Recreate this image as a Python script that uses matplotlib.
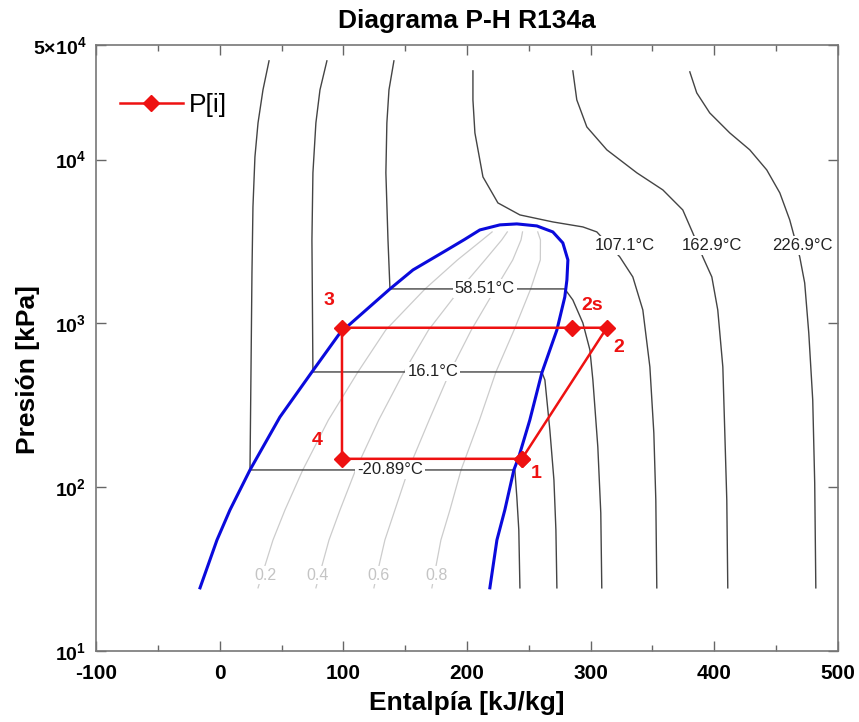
import matplotlib.pyplot as plt
from matplotlib.ticker import MultipleLocator, NullLocator

plt.rcParams['font.family'] = ['Liberation Sans', 'DejaVu Sans']
plt.rcParams['mathtext.fontset'] = 'custom'
plt.rcParams['mathtext.rm'] = 'Liberation Sans:bold'
plt.rcParams['mathtext.it'] = 'Liberation Sans:bold'
plt.rcParams['mathtext.bf'] = 'Liberation Sans:bold'

# campana de saturacion (liquido -> punto critico -> vapor)
h_sat = [-15.9, -2.2, 8.3, 24.5, 48.7, 74.6, 97.3, 137.7, 156.3, 183.8, 198.0, 210.4, 226.6, 240.3,
         256.5, 269.4, 277.5, 281.6, 280.8, 279.1, 272.7, 260.5, 250.8, 241.9, 237.9, 230.6, 224.2, 218.5]
p_sat = [24.3, 47.6, 72.6, 127.4, 268, 505, 874, 1622, 2118, 2806, 3250, 3716, 3990, 4045,
         3932, 3614, 3097, 2438, 1841, 1449, 911, 498, 257, 153, 127.4, 72.6, 47.6, 24.3]

# isotermas
h_t1 = [39.9, 35.0, 31.0, 28.5, 26.9, 26.1, 25.3, 24.5, 238.7, 240.3, 241.9, 242.8]
p_t1 = [40000, 26600, 16720, 10370, 5135, 2031, 498, 127.4, 127.4, 87.1, 54.8, 24.3]
h_t2 = [86.7, 81.1, 77.8, 75.4, 74.6, 75.4, 260.5, 263.0, 267.0, 270.3, 271.9, 272.7]
p_t2 = [40000, 26600, 16720, 8288, 3230, 505, 505, 451, 223.5, 110.7, 54.8, 24.3]
h_t3 = [140.9, 136.9, 135.2, 134.4, 136.1, 137.7, 279.1, 285.6, 293.7, 299.4, 301.8, 305.8, 308.2, 309.0]
p_t3 = [40000, 26600, 16720, 8288, 3230, 1622, 1622, 1389, 1006, 688, 451, 176, 69.6, 24.3]
h_t4 = [204.8, 204.8, 206.4, 212.9, 225.0, 242.8, 269.4, 293.7, 305.0, 323.6, 334.1, 342.2, 347.9, 351.1, 352.7, 353.5]
p_t4 = [34750, 23110, 14530, 7831, 5433, 4589, 4159, 3877, 3614, 2543, 1920, 1207, 542, 214.2, 83.5, 24.3]
h_t5 = [285.6, 288.8, 296.9, 313.1, 337.4, 358.4, 374.5, 382.6, 390.7, 398.0, 402.8, 406.9, 408.5, 410.1, 410.9]
p_t5 = [34750, 23110, 15810, 11450, 8288, 6521, 4923, 3563, 2543, 1920, 1207, 542, 214.2, 83.5, 24.3]
h_t6 = [380.2, 385.8, 396.3, 412.5, 428.7, 442.4, 453.0, 461.0, 469.1, 473.1, 476.4, 479.6, 481.2, 482.1]
p_t6 = [34270, 25500, 19250, 14530, 11450, 8640, 6252, 4279, 2543, 1764, 874, 341, 106.1, 24.3]
iso_h = [h_t1, h_t2, h_t3, h_t4, h_t5, h_t6]
iso_p = [p_t1, p_t2, p_t3, p_t4, p_t5, p_t6]
iso_names = ['-20.89°C', '16.1°C', '58.51°C', '107.1°C', '162.9°C', '226.9°C']
iso_lab_h = [137.7, 172.4, 214.5, 327.6, 398.0, 471.5]
iso_lab_p = [127.4, 505, 1622, 2969, 2969, 2969]

# lineas de calidad
p_q = [24.3, 47.6, 72.6, 127.4, 257, 505, 911, 1622, 2438, 3230, 3614]
h_q02 = [31.0, 43.1, 52.8, 67.2, 87.9, 111.8, 134.3, 166.1, 192.3, 212.4, 220.3]
h_q04 = [77.8, 88.4, 97.3, 109.9, 128.6, 149.0, 168.9, 194.6, 214.6, 228.1, 232.6]
h_q06 = [124.7, 133.6, 141.7, 152.5, 169.4, 186.2, 203.5, 223.0, 237.0, 243.7, 244.9]
h_q08 = [171.6, 178.9, 186.2, 195.2, 210.1, 223.4, 238.1, 251.5, 259.3, 259.4, 257.2]
q_lines = [h_q02, h_q04, h_q06, h_q08]
q_names = ['0.2', '0.4', '0.6', '0.8']
q_lab_h = [36.6, 79.5, 128.8, 175.7]
q_lab_p = 29.1

# ciclo
h_cycle = [244.4, 313.1, 284.8, 98.9, 98.9, 244.4]
p_cycle = [149, 940, 940, 940, 149, 149]
pt_names = ['1', '2', '2s', '3', '4']
pt_offsets = [(14, -15), (12, -20), (20, 22), (-13, 27), (-25, 18)]

fig = plt.figure(figsize=(8.59, 7.22), dpi=100)
ax = fig.add_axes([0.1118, 0.0983, 0.8637, 0.8394])

for hq, name, hl in zip(q_lines, q_names, q_lab_h):
    ax.plot(hq, p_q, color='#cccccc', lw=0.9, zorder=1)
    ax.text(hl, q_lab_p, name, color='#c4c4c4', fontsize=11.5, ha='center', va='center',
            bbox=dict(fc='white', ec='none', pad=1), zorder=2)

for hi, pi, name, hl, pl in zip(iso_h, iso_p, iso_names, iso_lab_h, iso_lab_p):
    ax.plot(hi, pi, color='#444444', lw=1.0, zorder=2)
    ax.text(hl, pl, name, color='#222222', fontsize=12, ha='center', va='center',
            bbox=dict(fc='white', ec='none', pad=1.5), zorder=3)

ax.plot(h_sat, p_sat, color='#0a0adc', lw=2.2, zorder=4)

ax.plot(h_cycle, p_cycle, color='#ee1111', lw=1.8, marker='D', markersize=8.5,
        label='P[i]', zorder=5)
for i, name in enumerate(pt_names):
    ax.annotate(name, (h_cycle[i], p_cycle[i]), xytext=pt_offsets[i], textcoords='offset pixels',
                color='#ee1111', fontsize=14, fontweight='bold', ha='center', va='center', zorder=6)

ax.set_yscale('log')
ax.set_xlim(-100, 500)
ax.set_ylim(10, 5e4)
ax.set_xticks(range(-100, 501, 100))
ax.set_xticklabels([str(v) for v in range(-100, 501, 100)], fontsize=15, fontweight='bold')
ax.xaxis.set_minor_locator(MultipleLocator(50))
ax.set_yticks([10, 100, 1000, 10000, 50000])
ax.set_yticklabels(['$10^{1}$', '$10^{2}$', '$10^{3}$', '$10^{4}$', '5×$10^{4}$'], fontsize=14, fontweight='bold')
ax.yaxis.set_minor_locator(NullLocator())
ax.tick_params(which='both', direction='in', top=True, right=True, color='#666666', labelcolor='black')
ax.tick_params(which='major', length=7, width=1)
ax.tick_params(which='minor', length=4, width=1)
ax.tick_params(axis='x', which='major', pad=9)
ax.tick_params(axis='y', which='major', pad=7)
for s in ax.spines.values():
    s.set_color('#777777')
    s.set_linewidth(1.2)

ax.set_title('Diagrama P-H R134a', fontsize=19, fontweight='bold', pad=12)
ax.set_xlabel('Entalpía [kJ/kg]', fontsize=19, fontweight='bold', labelpad=6)
ax.set_ylabel('Presión [kPa]', fontsize=19, fontweight='bold')
ax.yaxis.set_label_coords(-0.076, 0.465)

ax.legend(loc='upper left', bbox_to_anchor=(0.0, 0.96), frameon=False, fontsize=19,
          handlelength=2.4, handletextpad=0.2)

fig.savefig('out.png', dpi=100)
